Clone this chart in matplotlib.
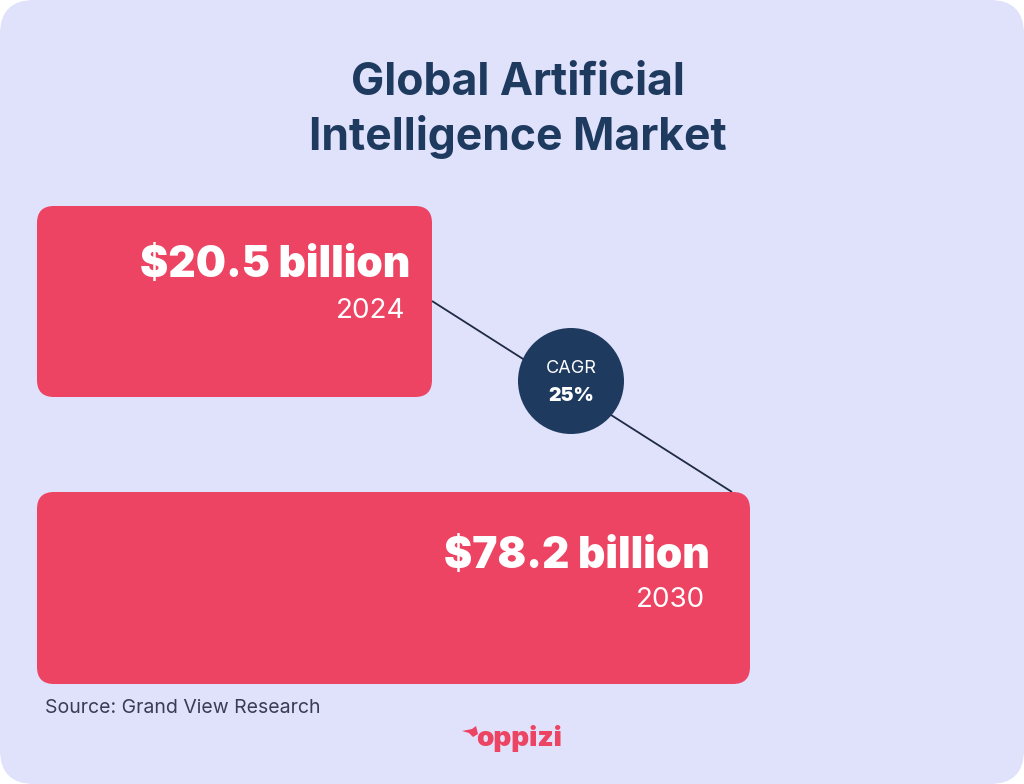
import matplotlib
matplotlib.use("Agg")
import matplotlib.pyplot as plt
from matplotlib.patches import FancyBboxPatch, Circle, Polygon

# ---- data ----
title_lines = ["Global Artificial", "Intelligence Market"]
values = [20.5, 78.2]
years = ["2024", "2030"]
cagr_pct = 25
source = "Source: Grand View Research"
brand = "oppizi"

BG = "#E0E1FB"
RED = "#EC4462"
NAVY = "#1E3A5F"
HEAVY = "Inter"
LIGHT = "Inter"

fig = plt.figure(figsize=(10.24, 7.84), dpi=100)
fig.patch.set_facecolor("white")
ax = fig.add_axes([0, 0, 1, 1])
ax.set_xlim(0, 1024)
ax.set_ylim(784, 0)
ax.axis("off")

ax.add_patch(FancyBboxPatch((0, 0), 1024, 784,
                            boxstyle="round,pad=0,rounding_size=34",
                            fc=BG, ec="none"))

ax.text(518, 95, title_lines[0], ha="center", va="baseline",
        fontsize=32, fontweight="bold", family=HEAVY, color=NAVY)
ax.text(518, 150, title_lines[1], ha="center", va="baseline",
        fontsize=32, fontweight="bold", family=HEAVY, color=NAVY)

# boxes (layout)
boxes = [(37, 206, 395, 191), (37, 492, 713, 192)]
text_right = [410, 710]
val_base = [277, 568]
yr_base = [318, 607]

# connector line behind
ax.plot([432, 732], [301, 492], color="#1F2A44", lw=1.3, zorder=1,
        solid_capstyle="butt")

for i, (x, y, w, h) in enumerate(boxes):
    ax.add_patch(FancyBboxPatch((x, y), w, h,
                                boxstyle="round,pad=0,rounding_size=17",
                                fc=RED, ec="none", zorder=2))
    ax.text(text_right[i], val_base[i], f"${values[i]:.1f} billion",
            ha="right", va="baseline", fontsize=30.5, fontweight="black",
            family=HEAVY, color="white", zorder=3)
    ax.text(text_right[i] - 5, yr_base[i], years[i], ha="right",
            va="baseline", fontsize=20, fontweight="normal", family=LIGHT,
            color="white", zorder=3)

ax.add_patch(Circle((571, 381), 53, fc=NAVY, ec="none", zorder=4))
ax.text(571, 373, "CAGR", ha="center", va="baseline", fontsize=13,
        fontweight="normal", family=LIGHT, color="white", zorder=5)
ax.text(571, 401, f"{cagr_pct}%", ha="center", va="baseline", fontsize=14,
        fontweight="black", family=HEAVY, color="white", zorder=5)

ax.text(45, 713, source, ha="left", va="baseline", fontsize=14,
        family=LIGHT, color="#3A3D52")

# brand
ax.text(476, 746, brand, ha="left", va="baseline", fontsize=20,
        fontweight="black", family=HEAVY, color=RED)
ax.add_patch(Polygon([[462, 731], [472, 729], [476, 726], [478, 734],
                      [473, 737], [469, 733]], closed=True, fc=RED, ec="none"))

fig.savefig("out.png", dpi=100, facecolor="white")
